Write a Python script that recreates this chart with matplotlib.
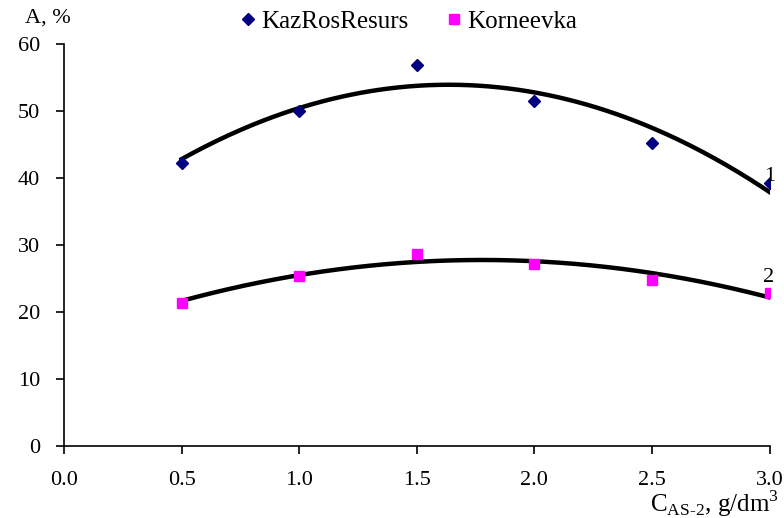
import numpy as np
import matplotlib
matplotlib.use("Agg")
import matplotlib.pyplot as plt

# Adsorption degree A (%) versus AS-2 concentration for two raw materials
conc = [0.5, 1.0, 1.5, 2.0, 2.5, 3.0]
kazros = [42.3, 50.0, 56.8, 51.5, 45.3, 39.3]
korneevka = [21.4, 25.4, 28.7, 27.1, 24.8, 22.8]

x_ticks = [0.0, 0.5, 1.0, 1.5, 2.0, 2.5, 3.0]
y_ticks = [0, 10, 20, 30, 40, 50, 60]

plt.rcParams['font.family'] = ['Liberation Serif', 'DejaVu Serif']
plt.rcParams['mathtext.fontset'] = 'custom'
plt.rcParams['mathtext.rm'] = 'Liberation Serif'
plt.rcParams['font.size'] = 16

fig = plt.figure(figsize=(7.84, 5.18), dpi=100)
ax = fig.add_axes([0.0816, 0.139, 0.9, 0.776])

# second-order polynomial trend lines
xs = np.linspace(min(conc), max(conc), 300)
for series in (kazros, korneevka):
    coef = np.polyfit(conc, series, 2)
    ax.plot(xs, np.polyval(coef, xs), color='black', lw=3.2, zorder=2)

ax.plot(conc, kazros, linestyle='none', marker='D', ms=6.5, color='#000080',
        label='KazRosResurs', zorder=3)
ax.plot(conc, korneevka, linestyle='none', marker='s', ms=7, color='#FF00FF',
        label='Korneevka', zorder=3)

ax.text(3.002, 40.3, '1', ha='center', va='center', fontsize=16, clip_on=False)
ax.text(2.995, 25.2, '2', ha='center', va='center', fontsize=16, clip_on=False)

ax.set_xlim(0, 3.0)
ax.set_ylim(0, 60)
ax.set_xticks(x_ticks)
ax.set_xticklabels([f'{v:.1f}' for v in x_ticks])
ax.set_yticks(y_ticks)

for side in ('top', 'right'):
    ax.spines[side].set_visible(False)
for side in ('left', 'bottom'):
    ax.spines[side].set_linewidth(1.2)
ax.tick_params(direction='out', length=6, width=1.2, labelsize=16)
ax.tick_params(axis='x', pad=12)
ax.tick_params(axis='y', pad=11)

fig.text(0.032, 0.966, 'A, %', ha='left', va='center', fontsize=16)
fig.text(0.994, 0.028, r'C$_{\mathregular{AS\text{-}2}}$, g/dm$^{\mathregular{3}}$',
         ha='right', va='center', fontsize=18)

fig.legend(loc='center', bbox_to_anchor=(0.518, 0.958), ncol=2, frameon=False,
           fontsize=18, handletextpad=0.05, columnspacing=1.3, handlelength=1.0)

fig.savefig('out.png', dpi=100)
